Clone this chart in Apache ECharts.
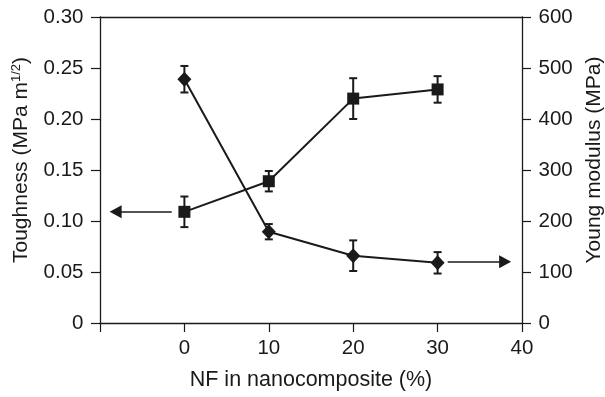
<!DOCTYPE html>
<html>
<head>
<meta charset="utf-8">
<script src="https://cdn.jsdelivr.net/npm/echarts@6/dist/echarts.min.js"></script>
<style>html,body{margin:0;padding:0;background:#fff;}#c{width:605px;height:397px;}</style>
</head>
<body>
<div id="c"></div>
<script>
// Data
const nf = [0, 10, 20, 30];
const toughness = [0.109, 0.139, 0.220, 0.229];
const toughnessErr = [0.015, 0.010, 0.020, 0.013];
const modulus = [478, 179, 132, 118];
const modulusErr = [26, 15, 30, 21];
const xTickLabels = ['0', '10', '20', '30', '40'];
const leftTickLabels = ['0', '0.05', '0.10', '0.15', '0.20', '0.25', '0.30'];
const rightTickLabels = ['0', '100', '200', '300', '400', '500', '600'];
const arrowToughness = [[-1.5, 0.109], [-8.15, 0.109]];
const arrowModulus = [[31.2, 120], [38.0, 120]];

const ink = '#1a1a1a';
const font = 'Liberation Sans, Arial, sans-serif';

function errRender(params, api) {
  const x = api.value(0), y = api.value(1), e = api.value(2);
  const t = api.coord([x, y + e]);
  const b = api.coord([x, y - e]);
  const hw = 4;
  const st = { stroke: ink, lineWidth: 2 };
  return {
    type: 'group',
    children: [
      { type: 'line', shape: { x1: t[0], y1: t[1], x2: b[0], y2: b[1] }, style: st },
      { type: 'line', shape: { x1: t[0] - hw, y1: t[1], x2: t[0] + hw, y2: t[1] }, style: st },
      { type: 'line', shape: { x1: b[0] - hw, y1: b[1], x2: b[0] + hw, y2: b[1] }, style: st }
    ]
  };
}

const axisLine = { show: true, onZero: false, lineStyle: { color: ink, width: 1.3 } };
const axisTick = { show: true, inside: false, length: 9, lineStyle: { color: ink, width: 1.2 } };

const chart = echarts.init(document.getElementById('c'), null, { renderer: 'canvas' });
chart.setOption({
  animation: false,
  backgroundColor: '#fff',
  textStyle: { fontFamily: font, color: ink },
  grid: { left: 100, right: 83, top: 17, bottom: 74, containLabel: false, outerBoundsMode: 'none' },
  xAxis: [{
    type: 'value', min: -10, max: 40, interval: 10,
    axisLine, axisTick, splitLine: { show: false },
    axisLabel: {
      fontSize: 20.5, color: ink, fontFamily: font, margin: 15,
      formatter: v => (v < 0 ? '' : xTickLabels[Math.round(v / 10)])
    },
    name: 'NF in nanocomposite (%)', nameLocation: 'middle', nameGap: 46,
    nameTextStyle: { fontSize: 21.5, color: ink, fontFamily: font }
  }, {
    type: 'value', position: 'top', min: -10, max: 40, interval: 10,
    axisLine, axisTick: { show: false }, axisLabel: { show: false }, splitLine: { show: false }
  }],
  yAxis: [{
    type: 'value', position: 'left', min: 0, max: 0.3, interval: 0.05,
    axisLine, axisTick, splitLine: { show: false },
    axisLabel: {
      fontSize: 20.5, color: ink, fontFamily: font, margin: 16.5,
      formatter: v => leftTickLabels[Math.round(v / 0.05)]
    },
    name: 'Toughness (MPa m{sup|1/2})', nameLocation: 'middle', nameGap: 68,
    nameTextStyle: {
      fontSize: 21, color: ink, fontFamily: font, padding: [0, 0, 0, 20],
      rich: { sup: { fontSize: 13, color: ink, fontFamily: font, padding: [0, 0, 9, 0] } }
    }
  }, {
    type: 'value', position: 'right', min: 0, max: 600, interval: 100,
    axisLine, axisTick, splitLine: { show: false },
    axisLabel: {
      fontSize: 20.5, color: ink, fontFamily: font, margin: 16.5,
      formatter: v => rightTickLabels[Math.round(v / 100)]
    },
    name: 'Young modulus (MPa)', nameLocation: 'middle', nameGap: 62,
    nameTextStyle: { fontSize: 21, color: ink, fontFamily: font, padding: [0, 0, 0, 20] }
  }],
  series: [
    {
      type: 'custom', xAxisIndex: 0, yAxisIndex: 0, renderItem: errRender,
      data: nf.map((x, i) => [x, toughness[i], toughnessErr[i]]), z: 2, silent: true
    },
    {
      type: 'custom', xAxisIndex: 0, yAxisIndex: 1, renderItem: errRender,
      data: nf.map((x, i) => [x, modulus[i], modulusErr[i]]), z: 2, silent: true
    },
    {
      name: 'Toughness', type: 'line', xAxisIndex: 0, yAxisIndex: 0,
      data: nf.map((x, i) => [x, toughness[i]]),
      symbol: 'rect', symbolSize: 12, showAllSymbol: true,
      lineStyle: { color: ink, width: 2 }, itemStyle: { color: ink }, z: 3,
      markLine: {
        silent: true, symbol: ['none', 'triangle'], symbolSize: [13, 12],
        label: { show: false },
        lineStyle: { color: ink, width: 1.5, type: 'solid' },
        data: [[{ coord: arrowToughness[0] }, { coord: arrowToughness[1] }]]
      }
    },
    {
      name: 'Young modulus', type: 'line', xAxisIndex: 0, yAxisIndex: 1,
      data: nf.map((x, i) => [x, modulus[i]]),
      symbol: 'diamond', symbolSize: [14, 15], showAllSymbol: true,
      lineStyle: { color: ink, width: 2 }, itemStyle: { color: ink }, z: 3,
      markLine: {
        silent: true, symbol: ['none', 'triangle'], symbolSize: [13, 12],
        label: { show: false },
        lineStyle: { color: ink, width: 1.5, type: 'solid' },
        data: [[{ coord: arrowModulus[0] }, { coord: arrowModulus[1] }]]
      }
    }
  ]
});
</script>
</body>
</html>
